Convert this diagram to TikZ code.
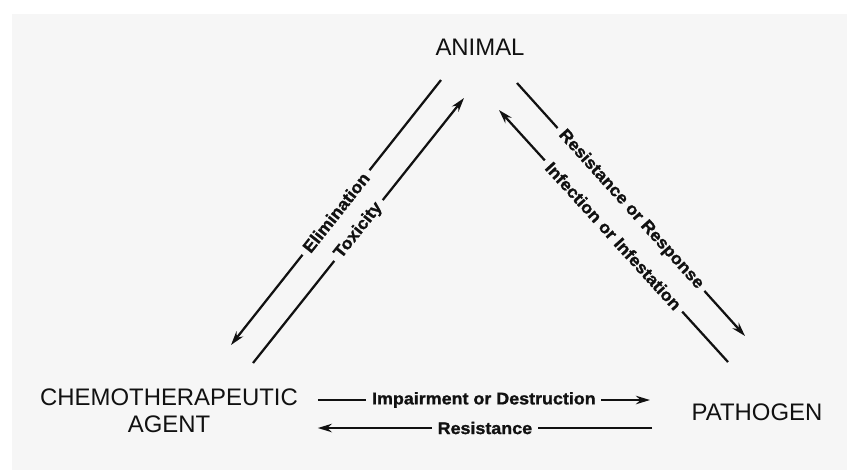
\documentclass[tikz,border=0pt]{standalone}
\usepackage{fontspec}
\setmainfont{Liberation Sans}
\newfontfamily\heavyfont[FakeStretch=1.06, BoldFeatures={FakeBold=1.3}]{Liberation Sans}
\usetikzlibrary{arrows.meta}
\definecolor{colPanel}{HTML}{F6F6F6}
\definecolor{colInk}{HTML}{111111}

\begin{document}
\begin{tikzpicture}[
  x=0.025cm, y=-0.025cm,
  >={Stealth[length=10pt, width=6pt]},
  party/.style={
    font=\fontsize{17}{19.5}\selectfont, text=colInk,
    align=center, inner sep=0pt
  },
  flow/.style={->, line width=1.6pt, color=colInk},
  flowlabel/.style={
    midway, sloped, fill=colPanel, inner sep=4pt, text=colInk,
    font=\heavyfont\bfseries\fontsize{12}{14}\selectfont
  },
]

%% ============================================================
%% Panel
%% ============================================================
\fill[white] (0,0) rectangle (847,470);
\fill[colPanel] (12,14) rectangle (847,470);

%% ============================================================
%% The three parties
%% ============================================================
\node[party] (animal)   at (480,47)  {ANIMAL};
\node[party] (agent)    at (169,411) {CHEMOTHERAPEUTIC\\AGENT};
\node[party] (pathogen) at (757,412) {PATHOGEN};

%% ============================================================
%% Arrow end points
%% ============================================================
\coordinate (elimS) at (441,80);   \coordinate (elimE) at (231,345);
\coordinate (toxS)  at (253,363);  \coordinate (toxE)  at (464,98);
\coordinate (respS) at (517,83);   \coordinate (respE) at (745,336);
\coordinate (infS)  at (728,362);  \coordinate (infE)  at (499,110);
\coordinate (impS)  at (agent.east |- 0,400);
\coordinate (impE)  at (650,400);
\coordinate (resS)  at (652,428);
\coordinate (resE)  at (agent.east |- 0,428);

%% ============================================================
%% ARROWS
%% ============================================================
\draw[flow] ([xshift=14]impS) -- (impE)
  node[flowlabel] {Impairment or Destruction};
\draw[flow] (resS) -- ([xshift=14]resE)
  node[flowlabel] {Resistance};

\draw[flow] (elimS) -- (elimE) node[flowlabel] {Elimination};
\draw[flow] (toxS)  -- (toxE)  node[flowlabel] {Toxicity};
\draw[flow] (respS) -- (respE) node[flowlabel] {Resistance or Response};
\draw[flow] (infS)  -- (infE)  node[flowlabel] {Infection or Infestation};

\end{tikzpicture}
\end{document}
